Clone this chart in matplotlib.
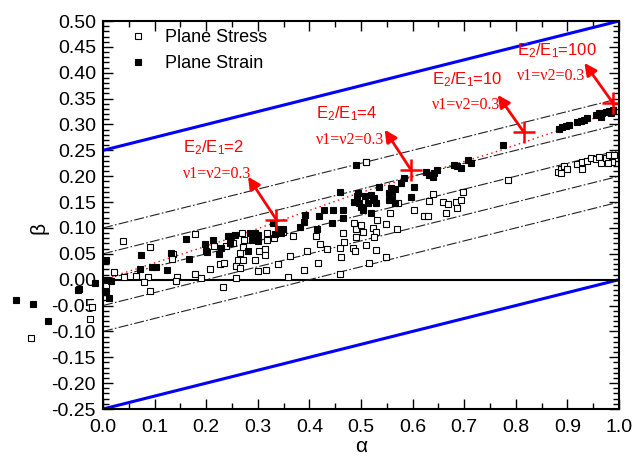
import matplotlib
matplotlib.use("Agg")
import matplotlib.pyplot as plt
from matplotlib.ticker import MultipleLocator, FormatStrFormatter

plt.rcParams['font.family'] = ['Liberation Sans', 'DejaVu Sans']
plt.rcParams['mathtext.default'] = 'regular'

## plane stress points (open squares)
stress_alpha = [-0.139, -0.049, -0.022, -0.026,
                0.039, 0.092, 0.178, 0.021, 0.041, 0.063, 0.088, 0.079, 0.092, 0.003, 0.005,
                0.136, 0.134, 0.143, 0.141, 0.179, 0.189, 0.208, 0.232, 0.227, 0.235, 0.199, 0.215, 0.239,
                0.318, 0.318, 0.332, 0.348, 0.369, 0.413, 0.395, 0.421, 0.434, 0.459, 0.467, 0.461,
                0.484, 0.489, 0.490, 0.487, 0.490, 0.465, 0.363, 0.340, 0.416, 0.390, 0.459, 0.358,
                0.316, 0.300, 0.258, 0.258, 0.265, 0.261, 0.271, 0.265, 0.271, 0.303, 0.313, 0.313,
                0.294, 0.274, 0.252, 0.270, 0.509,
                0.510, 0.639, 0.632, 0.658, 0.668, 0.665, 0.684, 0.694, 0.697, 0.687, 0.602, 0.623,
                0.630, 0.571, 0.556, 0.548, 0.532, 0.523, 0.529, 0.500, 0.503, 0.570, 0.525, 0.510,
                0.529, 0.548, 0.516,
                0.785, 0.881, 0.887, 0.894, 0.900, 0.888, 0.918, 0.928, 0.929, 0.939, 0.945,
                0.955, 0.961, 0.965, 0.974, 0.981, 0.987, 0.978, 0.990]
stress_beta = [-0.113, -0.019, -0.053, -0.076,
               0.074, 0.063, 0.089, 0.014, 0.005, 0.008, 0.005, -0.004, -0.021, -0.019, -0.011,
               0.050, 0.040, 0.005, -0.003, 0.011, 0.004, 0.021, -0.015, 0.031, 0.033, 0.056, 0.066, 0.066,
               0.091, 0.077, 0.080, 0.093, 0.084, 0.084, 0.056, 0.069, 0.059, 0.062, 0.072, 0.043,
               0.062, 0.056, 0.097, 0.109, 0.082, 0.091, 0.045, 0.031, 0.032, 0.019, 0.011, 0.005,
               0.018, 0.016, 0.003, 0.026, 0.023, 0.039, 0.039, 0.052, 0.064, 0.055, 0.059, 0.048,
               0.039, 0.077, 0.071, 0.090, 0.227,
               0.228, 0.166, 0.153, 0.151, 0.147, 0.129, 0.151, 0.154, 0.169, 0.138, 0.134, 0.124,
               0.124, 0.148, 0.129, 0.108, 0.116, 0.100, 0.093, 0.106, 0.093, 0.097, 0.082, 0.068,
               0.058, 0.043, 0.033,
               0.193, 0.209, 0.214, 0.220, 0.214, 0.206, 0.224, 0.228, 0.214, 0.230, 0.235,
               0.233, 0.238, 0.225, 0.235, 0.241, 0.228, 0.225, 0.241]

## plane strain points (filled squares)
strain_alpha = [-0.169, -0.135, -0.106, -0.046, -0.015,
                0.005, 0.008, 0.016, 0.005, 0.012, 0.073, 0.071, 0.095, 0.103, 0.124, 0.131,
                0.166, 0.161, 0.197, 0.213, 0.202, 0.224, 0.229, 0.242, 0.247,
                0.460, 0.492, 0.487, 0.497, 0.392, 0.428, 0.445, 0.465, 0.466, 0.419, 0.390,
                0.382, 0.415, 0.443, 0.329, 0.339, 0.345, 0.334, 0.348, 0.284, 0.294, 0.300,
                0.288, 0.300, 0.281, 0.248, 0.255, 0.491,
                0.707, 0.713, 0.681, 0.687, 0.694, 0.626, 0.632, 0.642, 0.648, 0.639, 0.584,
                0.577, 0.602, 0.596, 0.558, 0.565, 0.555, 0.561, 0.555, 0.566, 0.534, 0.507,
                0.519, 0.523, 0.529, 0.513, 0.526, 0.500, 0.503, 0.519, 0.494,
                0.776, 0.884, 0.890, 0.897, 0.903, 0.919, 0.926, 0.932, 0.939,
                0.955, 0.961, 0.968, 0.974, 0.981, 0.989, 0.984, 0.965]
strain_beta = [-0.040, -0.047, -0.080, -0.018, -0.006,
               0.039, 0.000, -0.003, -0.024, -0.035, 0.047, 0.021, 0.024, 0.024, 0.018, 0.051,
               0.040, 0.079, 0.069, 0.077, 0.053, 0.050, 0.062, 0.084, 0.071,
               0.170, 0.161, 0.151, 0.148, 0.125, 0.134, 0.134, 0.134, 0.119, 0.124, 0.111,
               0.102, 0.097, 0.109, 0.109, 0.097, 0.090, 0.088, 0.097, 0.090, 0.090, 0.087,
               0.077, 0.074, 0.055, 0.084, 0.087, 0.221,
               0.232, 0.225, 0.222, 0.219, 0.216, 0.209, 0.203, 0.206, 0.212, 0.199, 0.196,
               0.187, 0.180, 0.160, 0.177, 0.175, 0.167, 0.161, 0.154, 0.148, 0.180, 0.161,
               0.164, 0.154, 0.148, 0.148, 0.158, 0.141, 0.135, 0.129, 0.167,
               0.261, 0.291, 0.295, 0.297, 0.299, 0.304, 0.306, 0.309, 0.312,
               0.319, 0.322, 0.323, 0.325, 0.327, 0.328, 0.322, 0.315]

## red dotted trend through plane strain data
trend_alpha = [0.0, 0.247, 0.494, 0.755, 0.99]
trend_beta = [0.0, 0.080, 0.167, 0.245, 0.325]

## analytical points for E2/E1 ratios
ratio_labels = ['2', '4', '10', '100']
ratio_alpha = [0.336, 0.597, 0.815, 0.988]
ratio_beta = [0.116, 0.212, 0.286, 0.342]
arrow_head = [(0.281, 0.199), (0.546, 0.290), (0.765, 0.357), (0.933, 0.419)]
label_pos = [(0.155, 0.255), (0.413, 0.320), (0.637, 0.387), (0.803, 0.443)]

## bound lines and dash-dot guide lines (beta = alpha/4 + c)
bound_alpha = [0.0, 1.0]
upper_bound = [0.25, 0.50]
lower_bound = [-0.25, 0.0]
guide_offsets = [0.10, 0.05, 0.0, -0.05, -0.10]

fig = plt.figure(figsize=(6.37, 4.62), dpi=100)
ax = fig.add_axes([0.1617, 0.1147, 0.81, 0.8398])

ax.plot(bound_alpha, upper_bound, color='#0000ff', lw=2.2)
ax.plot(bound_alpha, lower_bound, color='#0000ff', lw=2.2)
ax.axhline(0, color='black', lw=1.5)
for c in guide_offsets:
    ax.plot(bound_alpha, [c + a / 4 for a in bound_alpha], color='#222222', lw=0.8,
            linestyle=(0, (9, 2, 1.5, 2)))
ax.plot(trend_alpha, trend_beta, color='red', lw=1, linestyle=(0, (1, 2.5)))

ax.plot(stress_alpha, stress_beta, 's', ls='none', ms=4.6, mfc='white', mec='black', mew=0.8,
        clip_on=False, label='Plane Stress')
ax.plot(strain_alpha, strain_beta, 's', ls='none', ms=4.6, mfc='black', mec='black', mew=0.8,
        clip_on=False, label='Plane Strain')

ax.plot(ratio_alpha, ratio_beta, '+', ls='none', color='red', ms=16, mew=1.8)
for lab, a, b, head, pos in zip(ratio_labels, ratio_alpha, ratio_beta, arrow_head, label_pos):
    ax.annotate('', xy=head, xytext=(a, b),
                arrowprops=dict(arrowstyle='-|>', color='red', lw=2, mutation_scale=18,
                                shrinkA=0, shrinkB=0))
    ax.text(pos[0], pos[1], 'E$_2$/E$_1$=' + lab, color='red', fontsize=12, va='center')
    ax.text(pos[0], pos[1] - 0.05, 'ν1=ν2=0.3', color='red', fontsize=11.5, va='center',
            family=['Liberation Serif', 'DejaVu Serif'])

ax.set_xlim(0, 1.0)
ax.set_ylim(-0.25, 0.50)
ax.xaxis.set_major_locator(MultipleLocator(0.1))
ax.xaxis.set_minor_locator(MultipleLocator(0.05))
ax.yaxis.set_major_locator(MultipleLocator(0.05))
ax.yaxis.set_minor_locator(MultipleLocator(0.01))
ax.xaxis.set_major_formatter(FormatStrFormatter('%.1f'))
ax.yaxis.set_major_formatter(FormatStrFormatter('%.2f'))
ax.tick_params(which='both', direction='in', labelsize=14, width=1)
ax.tick_params(which='major', length=7, top=True, right=True)
ax.tick_params(which='minor', length=4, top=True, right=True)
ax.tick_params(axis='x', which='major', pad=7)
ax.tick_params(axis='y', which='major', pad=5)
for s in ax.spines.values():
    s.set_linewidth(1.5)

ax.set_xlabel('α', fontsize=15, labelpad=1)
ax.set_ylabel('β', fontsize=15)
ax.yaxis.set_label_coords(-0.106, 0.466)

ax.legend(loc='upper left', bbox_to_anchor=(0.025, 1.012), frameon=False, fontsize=13,
          handlelength=1.0, handletextpad=1.0, labelspacing=0.5, borderaxespad=0.3)

fig.savefig('out.png', dpi=100)
